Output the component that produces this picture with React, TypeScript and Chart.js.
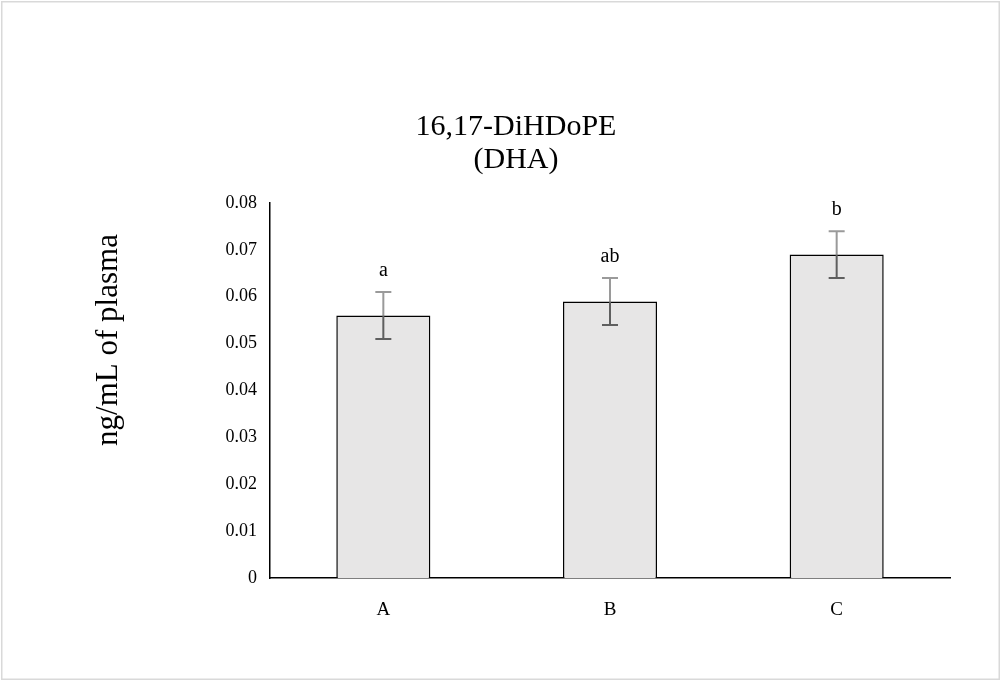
import React, { useEffect, useRef } from 'react';
import { Chart, registerables } from 'chart.js';

Chart.register(...registerables);

const categories: string[] = ['A', 'B', 'C'];
const means: number[] = [0.056, 0.059, 0.069];
const errors: number[] = [0.005, 0.005, 0.005];
const letters: string[] = ['a', 'ab', 'b'];
const titleLines: string[] = ['16,17-DiHDoPE', '(DHA)'];
const yAxisTitle = 'ng/mL of plasma';
const yMin = 0;
const yMax = 0.08;
const yStep = 0.01;

const FONT = '"Liberation Serif", "Times New Roman", serif';

const decorPlugin = {
  id: 'decor',
  afterDatasetsDraw(chart: any) {
    const ctx = chart.ctx as CanvasRenderingContext2D;
    const y = chart.scales.y;
    const meta = chart.getDatasetMeta(0);
    ctx.save();
    meta.data.forEach((bar: any, i: number) => {
      const x = bar.x;
      const yTop = y.getPixelForValue(means[i] + errors[i]);
      const yMid = y.getPixelForValue(means[i]);
      const yBot = y.getPixelForValue(means[i] - errors[i]);
      const cap = 8;
      ctx.lineWidth = 2;
      ctx.strokeStyle = '#9a9a9a';
      ctx.beginPath();
      ctx.moveTo(x, yTop);
      ctx.lineTo(x, yMid);
      ctx.moveTo(x - cap, yTop);
      ctx.lineTo(x + cap, yTop);
      ctx.stroke();
      ctx.strokeStyle = '#5f5f5f';
      ctx.beginPath();
      ctx.moveTo(x, yMid);
      ctx.lineTo(x, yBot);
      ctx.moveTo(x - cap, yBot);
      ctx.lineTo(x + cap, yBot);
      ctx.stroke();
      ctx.fillStyle = '#000';
      ctx.font = `20px ${FONT}`;
      ctx.textAlign = 'center';
      ctx.textBaseline = 'middle';
      ctx.fillText(letters[i], x, yTop - 21);
    });
    ctx.restore();
  },
  afterDraw(chart: any) {
    const ctx = chart.ctx as CanvasRenderingContext2D;
    ctx.save();
    // outer border
    ctx.strokeStyle = '#d9d9d9';
    ctx.lineWidth = 1.5;
    ctx.strokeRect(1.75, 1.75, chart.width - 3.5, chart.height - 3.5);
    // title
    ctx.fillStyle = '#000';
    ctx.font = `30px ${FONT}`;
    ctx.textAlign = 'center';
    ctx.textBaseline = 'middle';
    titleLines.forEach((t, i) => ctx.fillText(t, 516, 127 + i * 33));
    // y-axis title
    ctx.font = `31px ${FONT}`;
    ctx.translate(109, 340);
    ctx.rotate(-Math.PI / 2);
    ctx.fillText(yAxisTitle, 0, 0);
    ctx.restore();
  },
};

export default function App() {
  const ref = useRef<HTMLCanvasElement | null>(null);
  useEffect(() => {
    document.body.style.margin = '0';
    document.body.style.overflow = 'hidden';
    if (!ref.current) return;
    const chart = new Chart(ref.current, {
      type: 'bar',
      data: {
        labels: categories,
        datasets: [
          {
            data: means,
            backgroundColor: '#e7e6e6',
            borderColor: '#000000',
            borderWidth: 1.5,
            barPercentage: 0.415,
            categoryPercentage: 1,
          },
        ],
      },
      options: {
        responsive: false,
        animation: false,
        layout: { padding: { left: 0, top: 203, right: 51, bottom: 0 } },
        plugins: {
          legend: { display: false },
          tooltip: { enabled: false },
          title: { display: false },
        },
        scales: {
          x: {
            grid: { display: false, drawTicks: false },
            border: { display: true, color: '#000', width: 1.5 },
            ticks: {
              color: '#000',
              font: { family: FONT, size: 19 },
              padding: 21,
            },
            afterFit: (s: any) => {
              s.height = 103;
            },
          },
          y: {
            min: yMin,
            max: yMax,
            grid: { display: false, drawTicks: false },
            border: { display: true, color: '#000', width: 1.5 },
            ticks: {
              stepSize: yStep,
              color: '#000',
              font: { family: FONT, size: 18 },
              padding: 13,
              callback: (v: any) => (Number(v) === 0 ? '0' : Number(v).toFixed(2)),
            },
            afterFit: (s: any) => {
              s.width = 270;
            },
          },
        },
      },
      plugins: [decorPlugin],
    });
    return () => chart.destroy();
  }, []);
  return <canvas ref={ref} width={1001} height={681} style={{ display: 'block' }} />;
}
